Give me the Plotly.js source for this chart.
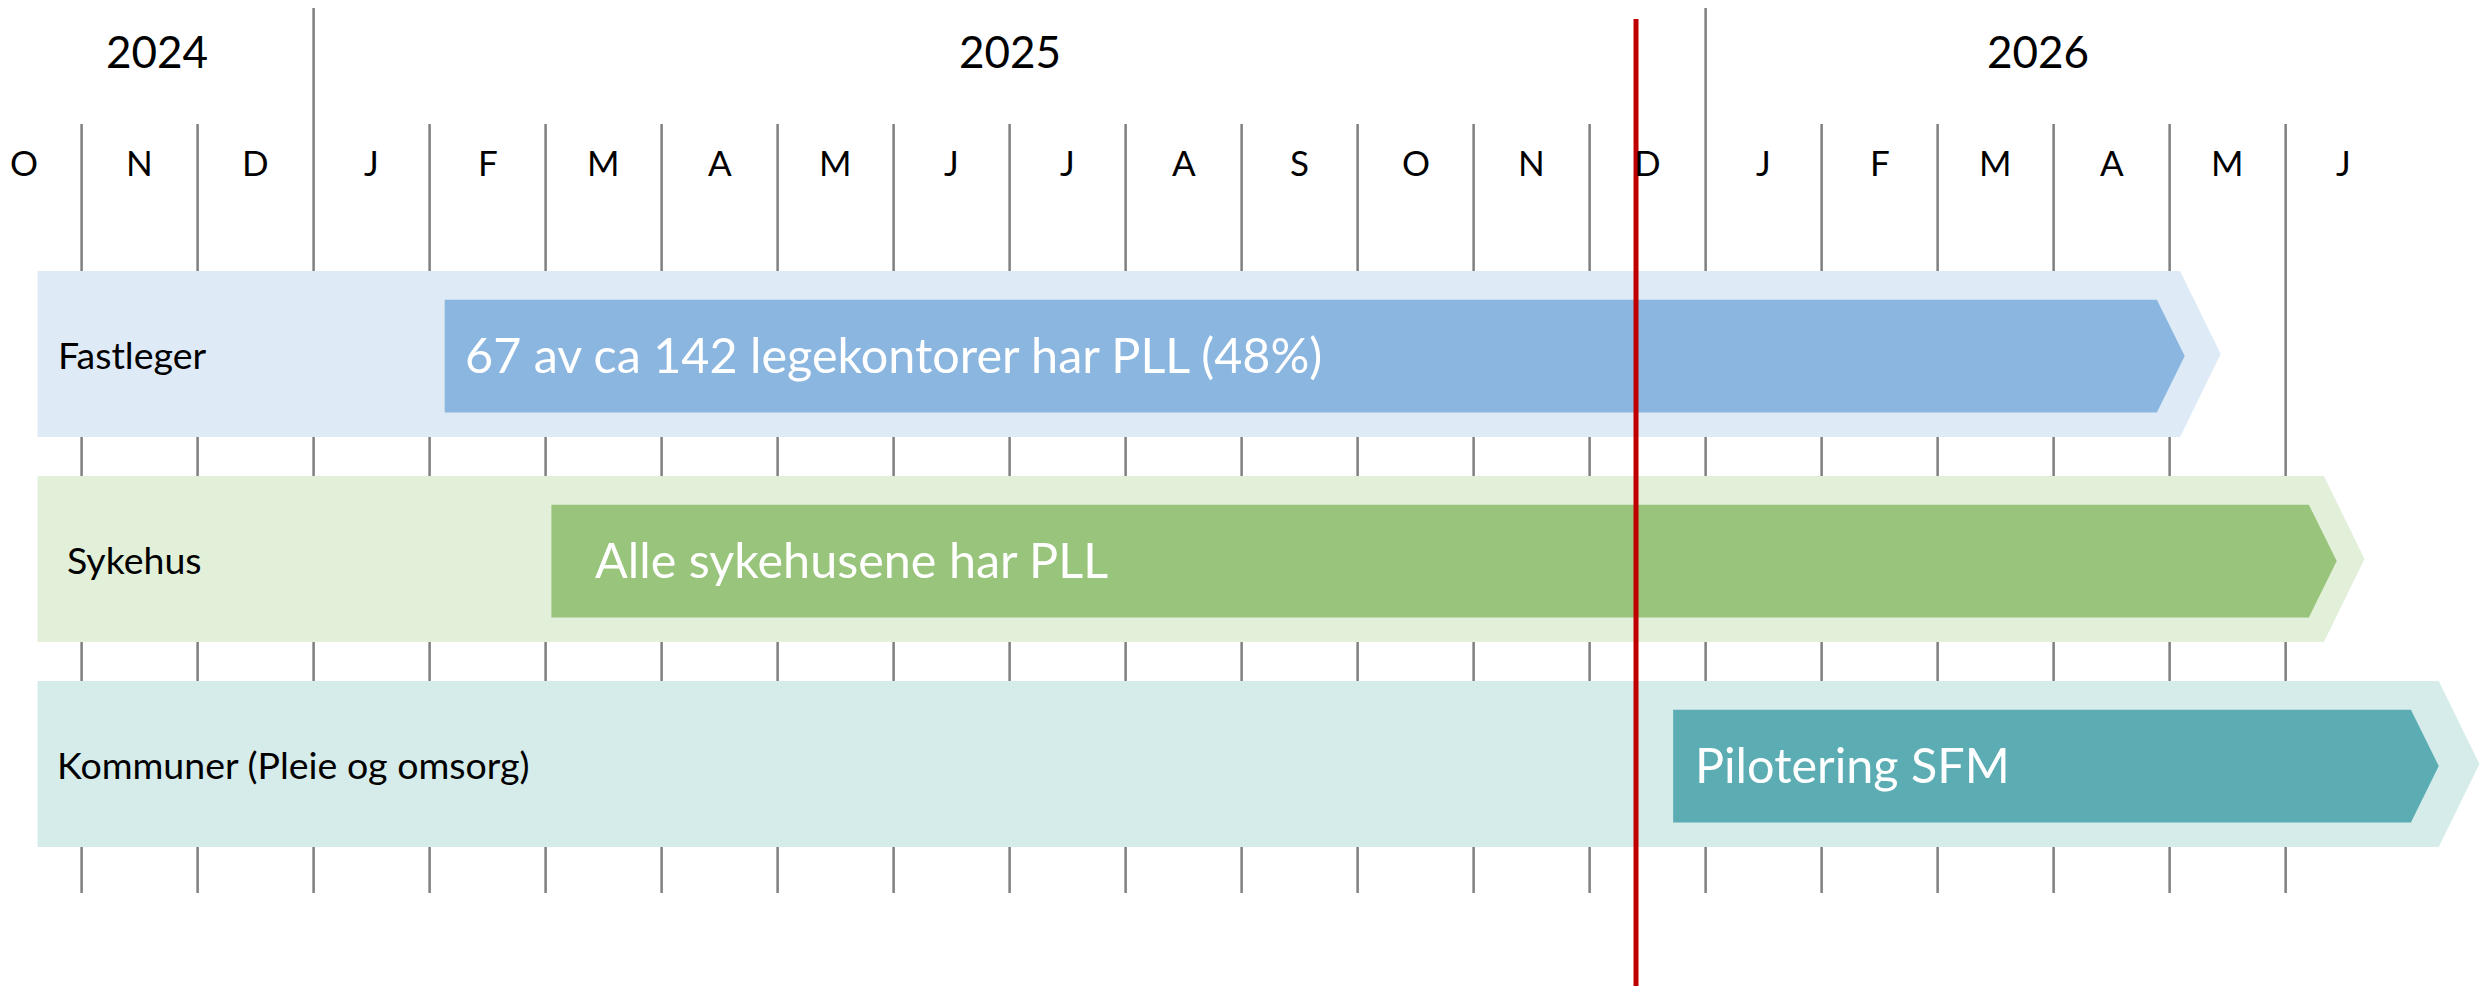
<!DOCTYPE html>
<html>
<head>
<meta charset="utf-8">
<script src="https://cdn.plot.ly/plotly-3.0.1.min.js"></script>
<style>html,body{margin:0;padding:0;background:#fff;}#chart{width:2484px;height:995px;}</style>
</head>
<body>
<div id="chart"></div>
<script>
// ---- DATA (x in months counted from 1 Oct 2024) ----
const months = ['O','N','D','J','F','M','A','M','J','J','A','S','O','N','D','J','F','M','A','M','J'];
const years = ['2024','2025','2026'];
const yearFrom = [0, 3, 15];
const yearTo = [3, 15, 21];
const rows = ['Fastleger','Sykehus','Kommuner (Pleie og omsorg)'];
const bandStart = [0.62, 0.62, 0.62];
const bandEnd = [19.44, 20.68, 21.67];
const phases = ['67 av ca 142 legekontorer har PLL (48%)','Alle sykehusene har PLL','Pilotering SFM'];
const phaseStart = [4.13, 5.05, 14.72];
const phaseEnd = [19.13, 20.44, 21.32];
const todayAt = 14.4;

// ---- STYLE ----
const FONT = 'Lato, "Open Sans", sans-serif';
const bandColors = ['#deeaf6','#e2efd9','#d5ecea'];
const barColors = ['#8bb6e0','#99c47b','#5badb3'];
const bandHalf = 0.405, barHalf = 0.275, bandTip = 0.35, barTip = 0.24;
const xRange = [0.2966, 21.71];
const yRange = [3.1268, -1.7268];
const monthLabelY = -0.937, yearLabelY = -1.478;
const monthLineTop = -1.122, lineBottom = 2.629, yearLineTop = -1.688;
const redTop = -1.634, redBottom = 3.083;
const rowLabelShift = [18, 27, 17];
const phaseLabelShift = [18, 42, 20];
const yearShift = [0, 0, -16];

function arrow(x0, x1, yc, h, tip) {
  return {
    x: [x0, x1 - tip, x1, x1 - tip, x0, x0],
    y: [yc - h, yc - h, yc, yc + h, yc + h, yc - h]
  };
}

const traces = [];
rows.forEach((r, i) => {
  const b = arrow(bandStart[i], bandEnd[i], i, bandHalf, bandTip);
  traces.push({type:'scatter', mode:'lines', x:b.x, y:b.y, fill:'toself',
    fillcolor:bandColors[i], line:{width:0, color:bandColors[i]}, hoverinfo:'skip'});
  const p = arrow(phaseStart[i], phaseEnd[i], i + 0.01, barHalf, barTip);
  traces.push({type:'scatter', mode:'lines', x:p.x, y:p.y, fill:'toself',
    fillcolor:barColors[i], line:{width:0, color:barColors[i]}, hoverinfo:'skip'});
});

const shapes = [];
for (let m = 1; m < months.length; m++) {
  const isYear = yearFrom.indexOf(m) >= 0;
  shapes.push({type:'line', layer:'below', xref:'x', yref:'y', x0:m, x1:m,
    y0: isYear ? yearLineTop : monthLineTop, y1: lineBottom,
    line:{color:'#7f7f7f', width:2.5}});
}
shapes.push({type:'line', layer:'above', xref:'x', yref:'y', x0:todayAt, x1:todayAt,
  y0:redTop, y1:redBottom, line:{color:'#c00000', width:5}});

const annotations = [];
months.forEach((m, i) => {
  annotations.push({x:i + 0.5, y:monthLabelY, xref:'x', yref:'y', text:m, showarrow:false,
    xanchor:'center', yanchor:'middle', font:{family:FONT, size:35, color:'#000'}});
});
years.forEach((yv, i) => {
  const a = Math.max(yearFrom[i], xRange[0]), b = Math.min(yearTo[i], xRange[1]);
  annotations.push({x:(a + b) / 2, y:yearLabelY, xref:'x', yref:'y', text:yv, showarrow:false,
    xshift:yearShift[i], xanchor:'center', yanchor:'middle', font:{family:FONT, size:44, color:'#000'}});
});
rows.forEach((r, i) => {
  annotations.push({x:bandStart[i], y:i, xref:'x', yref:'y', text:r, showarrow:false,
    xshift:rowLabelShift[i], xanchor:'left', yanchor:'middle', font:{family:FONT, size:37.5, color:'#000'}});
  annotations.push({x:phaseStart[i], y:i, xref:'x', yref:'y', text:phases[i], showarrow:false,
    xshift:phaseLabelShift[i], xanchor:'left', yanchor:'middle', font:{family:FONT, size:48.5, color:'#fff'}});
});

const layout = {
  width:2484, height:995, margin:{l:0, r:0, t:0, b:0, pad:0},
  paper_bgcolor:'#fff', plot_bgcolor:'#fff', showlegend:false,
  xaxis:{range:xRange, visible:false, fixedrange:true},
  yaxis:{range:yRange, visible:false, fixedrange:true},
  shapes:shapes, annotations:annotations, hovermode:false
};
Plotly.newPlot('chart', traces, layout, {displayModeBar:false, staticPlot:true});
</script>
</body>
</html>
